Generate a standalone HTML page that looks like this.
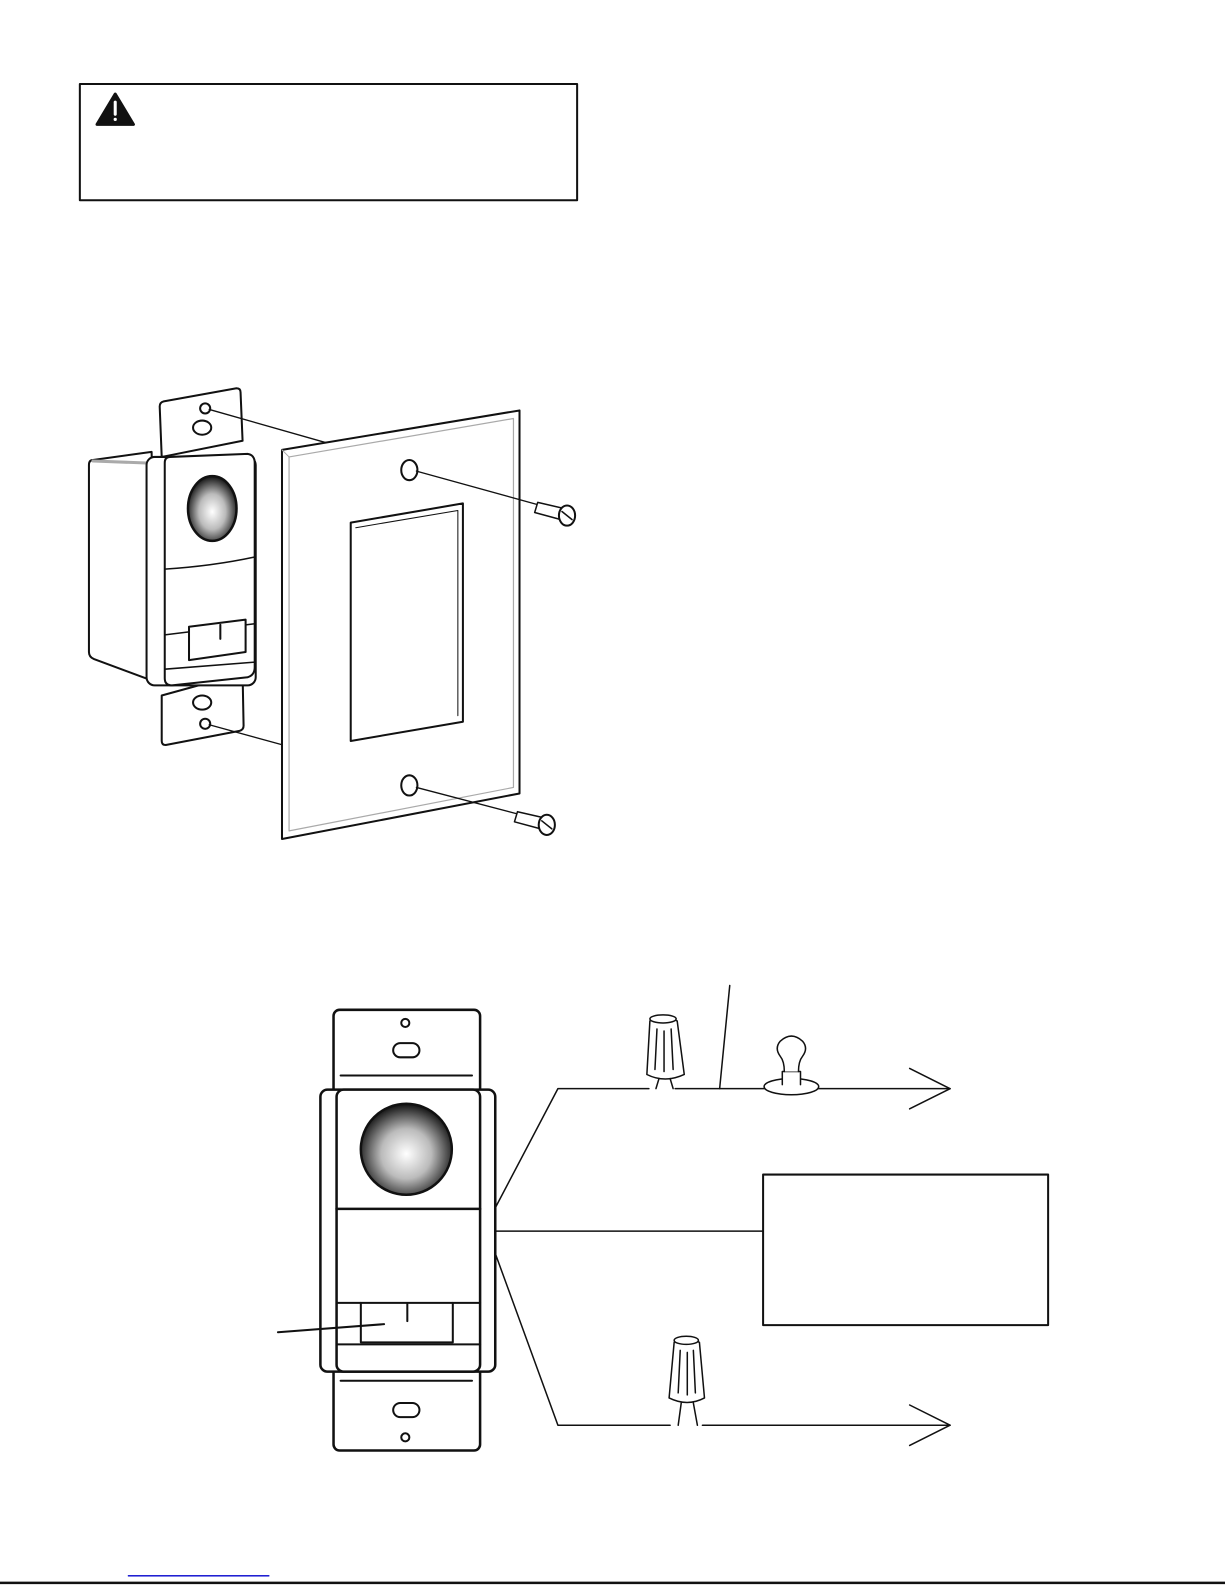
<!DOCTYPE html>
<html><head><meta charset="utf-8"><style>html,body{margin:0;padding:0;background:#fff}svg{display:block}</style></head>
<body>
<svg width="1225" height="1585" viewBox="0 0 1212 1568" xmlns="http://www.w3.org/2000/svg" fill="none" stroke="#111" stroke-width="2" stroke-linejoin="round" stroke-linecap="round">
<defs>
<radialGradient id="g" cx="0.5" cy="0.55" r="0.55"><stop offset="0" stop-color="#fff"/><stop offset="0.5" stop-color="#bbb"/><stop offset="1" stop-color="#111"/></radialGradient>
</defs>
<!-- warning box -->
<rect x="79" y="83" width="492" height="115" stroke-width="2"/>
<path d="M114,93 L132,123 L96,123 Z" fill="#111" stroke-width="3"/>
<line x1="114" y1="101" x2="114" y2="113" stroke="#fff" stroke-width="3"/>
<circle cx="114" cy="118" r="1.6" fill="#fff" stroke="none"/>

<!-- top device -->
<path d="M92,455 Q88,455 88,460 L88,645 Q88,650 93,652 L155,675 L150,447 Z" fill="#fff"/>
<line x1="92" y1="456" x2="145" y2="458" stroke="#aaa" stroke-width="3"/>
<path d="M158,402 Q158,398 162,397 L234,384 Q238,384 238,388 L240,436 L160,452 Z" fill="#fff"/>
<circle cx="203" cy="404" r="5"/>
<ellipse cx="200" cy="423" rx="9" ry="7"/>
<path d="M160,688 L240,666 L241,718 Q241,722 237,723 L164,737 Q160,737 160,733 Z" fill="#fff"/>
<ellipse cx="200" cy="695" rx="9" ry="7"/>
<circle cx="203" cy="716" r="5"/>
<rect x="145" y="452" width="108" height="226" rx="8" fill="#fff"/>
<path d="M168,452 L245,449 Q252,450 252,458 L252,660 Q252,668 245,670 L170,678 Q163,678 163,671 L163,458 Q163,452 168,452Z" fill="#fff"/>
<ellipse cx="210" cy="503" rx="24" ry="32" fill="url(#g)" stroke-width="2.5"/>
<path d="M163,563 Q210,560 252,551" stroke-width="1.5"/>
<path d="M163,628 L252,617" stroke-width="1.5"/>
<path d="M163,662 L252,655" stroke-width="1.5"/>
<path d="M187,620 L243,613 L243,645 L187,653 Z" fill="#fff"/>
<line x1="218" y1="618" x2="218" y2="632" stroke-width="2"/>
<line x1="207" y1="405" x2="330" y2="440" stroke-width="1.3"/>
<line x1="207" y1="717" x2="280" y2="737" stroke-width="1.3"/>

<!-- wall plate -->
<path d="M279,445 L514,406 L514,785 L279,830 Z" fill="#fff"/>
<path d="M286,452 L508,414 L508,779 L286,822 Z" stroke="#aaa" stroke-width="1.2"/>
<line x1="279" y1="445" x2="286" y2="452" stroke="#aaa" stroke-width="1"/>
<ellipse cx="405" cy="465" rx="8" ry="10"/>
<ellipse cx="405" cy="777" rx="8" ry="10"/>
<path d="M347,517 L458,498 L458,714 L347,733 Z"/>
<path d="M352,522 L453,505 L453,708" stroke-width="1"/>
<!-- screws -->
<line x1="412" y1="466" x2="535" y2="500" stroke-width="1.3"/>
<path d="M532,497 L558,503 L555,514 L529,507 Z" fill="#fff" stroke-width="1.5"/>
<ellipse cx="561" cy="510" rx="8" ry="10" fill="#fff"/>
<line x1="556" y1="506" x2="566" y2="514" stroke-width="1.5"/>
<line x1="412" y1="779" x2="515" y2="806" stroke-width="1.3"/>
<path d="M512,803 L538,809 L535,820 L509,813 Z" fill="#fff" stroke-width="1.5"/>
<ellipse cx="541" cy="816" rx="8" ry="10" fill="#fff"/>
<line x1="536" y1="812" x2="546" y2="820" stroke-width="1.5"/>

<!-- bottom device -->
<rect x="330" y="999" width="145" height="436" rx="6" fill="#fff" stroke-width="2.5"/>
<circle cx="401" cy="1012" r="4"/>
<rect x="389" y="1032" width="26" height="14" rx="7"/>
<line x1="337" y1="1064" x2="467" y2="1064"/>
<line x1="337" y1="1366" x2="467" y2="1366"/>
<rect x="389" y="1388" width="26" height="14" rx="7"/>
<circle cx="401" cy="1422" r="4"/>
<rect x="317" y="1078" width="173" height="279" rx="7" fill="#fff" stroke-width="2.5"/>
<rect x="333" y="1078" width="142" height="279" rx="7" fill="#fff" stroke-width="2.5"/>
<circle cx="402" cy="1137" r="45" fill="url(#g)" stroke-width="2.5"/>
<line x1="333" y1="1196" x2="475" y2="1196" stroke-width="2.5"/>
<line x1="333" y1="1289" x2="475" y2="1289"/>
<line x1="333" y1="1330" x2="475" y2="1330"/>
<path d="M357,1289 L357,1328 L448,1328 L448,1289"/>
<line x1="403" y1="1290" x2="403" y2="1307"/>
<line x1="275" y1="1318" x2="380" y2="1310" stroke-width="2"/>

<!-- wires -->
<g stroke-width="1.5">
<path d="M490,1195 L552,1077 L642,1077"/>
<path d="M668,1077 L940,1077"/>
<path d="M900,1057 L940,1077 L900,1097"/>
<line x1="722" y1="975" x2="712" y2="1077"/>
<path d="M490,1218 L755,1218"/>
<rect x="755" y="1162" width="282" height="149" stroke-width="2"/>
<path d="M490,1240 L552,1410 L663,1410"/>
<path d="M695,1410 L940,1410"/>
<path d="M900,1390 L940,1410 L900,1430"/>
</g>
<!-- wire nut top -->
<g stroke-width="1.5" fill="#fff">
<path d="M643,1010 Q657,1004 670,1010 L677,1063 Q658,1072 640,1063 Z"/>
<ellipse cx="656" cy="1008" rx="13" ry="4"/>
<line x1="650" y1="1018" x2="648" y2="1058"/>
<line x1="657" y1="1020" x2="657" y2="1060"/>
<line x1="664" y1="1018" x2="666" y2="1058"/>
<path d="M652,1067 L649,1077 M663,1067 L666,1077"/>
</g>
<g stroke-width="1.5" fill="#fff">
<path d="M667,1328 Q680,1322 692,1328 L697,1383 Q680,1392 662,1383 Z"/>
<ellipse cx="679" cy="1326" rx="12" ry="4"/>
<line x1="673" y1="1336" x2="671" y2="1378"/>
<line x1="680" y1="1338" x2="680" y2="1380"/>
<line x1="686" y1="1336" x2="688" y2="1378"/>
<path d="M674,1388 L671,1410 M686,1388 L690,1410"/>
</g>
<!-- bulb -->
<g stroke-width="1.5" fill="#fff">
<ellipse cx="783" cy="1075" rx="27" ry="8"/>
<path d="M774,1073 L774,1060 L792,1060 L792,1073"/>
<path d="M776,1060 Q776,1050 772,1045 Q766,1037 772,1030 Q783,1020 794,1030 Q800,1037 794,1045 Q790,1050 790,1060"/>
</g>

<!-- footer -->
<line x1="127" y1="1559" x2="266" y2="1559" stroke="#0000cc" stroke-width="1.3"/>
<line x1="0" y1="1566" x2="1212" y2="1566" stroke-width="2.5"/>
</svg>
</body></html>
